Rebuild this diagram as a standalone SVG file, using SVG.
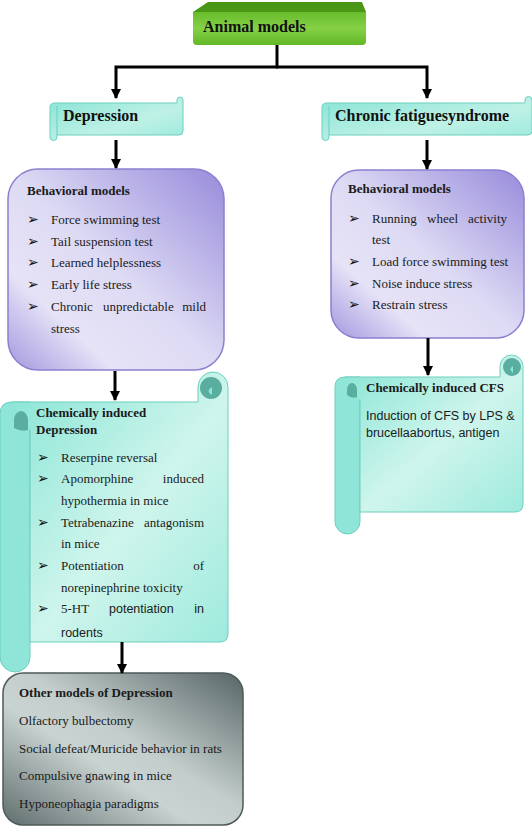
<svg xmlns="http://www.w3.org/2000/svg" width="532" height="829" viewBox="0 0 532 829">
<defs>
<linearGradient id="gGreen" x1="0" y1="0" x2="0" y2="1">
<stop offset="0" stop-color="#68bd2b"/><stop offset="0.5" stop-color="#86d046"/><stop offset="1" stop-color="#62b826"/>
</linearGradient>
<linearGradient id="gPurple" x1="1" y1="0" x2="0" y2="1">
<stop offset="0" stop-color="#978bdb"/><stop offset="0.5" stop-color="#dddaf4"/><stop offset="0.75" stop-color="#e6e3f7"/><stop offset="1" stop-color="#a398df"/>
</linearGradient>
<linearGradient id="gTeal" x1="0" y1="0" x2="1" y2="1">
<stop offset="0" stop-color="#86e4d5"/><stop offset="0.55" stop-color="#cff5ec"/><stop offset="1" stop-color="#9eeadd"/>
</linearGradient>
<linearGradient id="gBanner" x1="0" y1="0" x2="1" y2="1">
<stop offset="0" stop-color="#86e4d5"/><stop offset="0.6" stop-color="#bff1e6"/><stop offset="1" stop-color="#9be9dc"/>
</linearGradient>
<linearGradient id="gGray" x1="1" y1="0" x2="0" y2="1">
<stop offset="0" stop-color="#566565"/><stop offset="0.45" stop-color="#c3cecc"/><stop offset="0.6" stop-color="#c9d3d1"/><stop offset="1" stop-color="#5f6d6d"/>
</linearGradient>
<marker id="arr" markerUnits="userSpaceOnUse" markerWidth="10" markerHeight="10" refX="9" refY="5" orient="auto">
<path d="M0,0 L10,5 L0,10 Z" fill="#000"/>
</marker>
</defs>
<style>
.t{font-family:"Liberation Serif","Times New Roman",serif;font-size:13px;fill:#1a1a1a}
.b{font-weight:bold}
.h{font-family:"Liberation Serif","Times New Roman",serif;font-size:16px;font-weight:bold;fill:#111}
.s{font-family:"Liberation Sans",Arial,sans-serif;font-size:12.5px;fill:#1a1a1a}
.bl{font-family:"DejaVu Sans",sans-serif;font-size:14px;fill:#111}
.tealroll{fill:#8fe6d8;stroke:#6ccfbe;stroke-width:1}
.tealbody{fill:url(#gTeal);stroke:#6ccfbe;stroke-width:1}
.dark{fill:#5aaea0}
.conn{fill:none;stroke:#000;stroke-width:3}
</style>

<g id="animal-models">
<path d="M193,12 L208,2 H362 L366,12 Z" fill="#4a9616"/>
<path d="M193,12 H366 V41 Q366,45 362,45 H197 Q193,45 193,41 Z" fill="url(#gGreen)"/>
<text class="h" x="203" y="32">Animal models</text>
</g>

<g id="depression">
<path d="M55,103 H177 V100 A3,3 0 0 1 183,100 V131 Q183,135 179,135 H57 V137 A3.5,3.5 0 0 1 50,137 V107 Q50,103 55,103 Z" fill="url(#gBanner)" stroke="#6ccfbe"/>
<line x1="57" y1="106" x2="57" y2="135" stroke="#6ccfbe"/>
<text class="h" x="63" y="121">Depression</text>
</g>

<g id="cfs">
<path d="M327,103 H525 V100 A3.5,3.5 0 0 1 532,100 V131 Q532,135 528,135 H329 V137 A3.5,3.5 0 0 1 322,137 V107 Q322,103 327,103 Z" fill="url(#gBanner)" stroke="#6ccfbe"/>
<line x1="329" y1="106" x2="329" y2="135" stroke="#6ccfbe"/>
<text class="h" x="335" y="121">Chronic fatiguesyndrome</text>
</g>

<g id="behavioral-left">
<rect x="8" y="169" width="216" height="201" rx="30" fill="url(#gPurple)" stroke="#8b80cf" stroke-width="1.5"/>
<text class="t b" x="27" y="195">Behavioral models</text>
<text class="bl" x="27" y="224">➢</text><text class="t" x="51" y="224">Force swimming test</text>
<text class="bl" x="27" y="246">➢</text><text class="t" x="51" y="246">Tail suspension test</text>
<text class="bl" x="27" y="267">➢</text><text class="t" x="51" y="267">Learned helplessness</text>
<text class="bl" x="27" y="289">➢</text><text class="t" x="51" y="289">Early life stress</text>
<text class="bl" x="27" y="311">➢</text><text class="t" x="51" y="311">Chronic</text><text class="t" x="103" y="311">unpredictable</text><text class="t" x="206" y="311" text-anchor="end">mild</text>
<text class="t" x="51" y="333">stress</text>
</g>

<g id="behavioral-right">
<rect x="331" y="170" width="193" height="168" rx="28" fill="url(#gPurple)" stroke="#8b80cf" stroke-width="1.5"/>
<text class="t b" x="348" y="193">Behavioral models</text>
<text class="bl" x="348" y="223">➢</text><text class="t" x="372" y="223">Running</text><text class="t" x="427" y="223">wheel</text><text class="t" x="507" y="223" text-anchor="end">activity</text>
<text class="t" x="372" y="244">test</text>
<text class="bl" x="348" y="266">➢</text><text class="t" x="372" y="266">Load force swimming test</text>
<text class="bl" x="348" y="288">➢</text><text class="t" x="372" y="288">Noise induce stress</text>
<text class="bl" x="348" y="309">➢</text><text class="t" x="372" y="309">Restrain stress</text>
</g>

<g id="chem-depression">
<path class="tealroll" d="M0,414 Q0,402 12,402 H30 V657 A15,15 0 0 1 0,657 Z"/>
<path class="tealbody" d="M12,402 H198 V387 A15,15 0 0 1 228,387 V634 Q228,642 220,642 H30 V430"/>
<path class="dark" d="M14,420 A7,9 0 0 1 28,420 V430 Q21,432 14,428 Z"/>
<circle cx="211" cy="388" r="11" class="dark"/>
<path d="M212,387 Q205,391 212,395 Z" fill="#8fe6d8"/>
<text class="t b" x="36" y="417">Chemically induced</text>
<text class="t b" x="36" y="434">Depression</text>
<text class="bl" x="37" y="462">➢</text><text class="t" x="61" y="462">Reserpine reversal</text>
<text class="bl" x="37" y="483">➢</text><text class="t" x="61" y="483">Apomorphine</text><text class="t" x="204" y="483" text-anchor="end">induced</text>
<text class="t" x="61" y="505">hypothermia in mice</text>
<text class="bl" x="37" y="527">➢</text><text class="t" x="61" y="527">Tetrabenazine</text><text class="t" x="204" y="527" text-anchor="end">antagonism</text>
<text class="t" x="61" y="548">in mice</text>
<text class="bl" x="37" y="570">➢</text><text class="t" x="61" y="570">Potentiation</text><text class="t" x="204" y="570" text-anchor="end">of</text>
<text class="t" x="61" y="592">norepinephrine toxicity</text>
<text class="bl" x="37" y="613">➢</text><text class="t" x="61" y="613">5-HT</text><text class="s" x="109" y="613">potentiation</text><text class="s" x="204" y="613" text-anchor="end">in</text>
<text class="s" x="61" y="637">rodents</text>
</g>

<g id="chem-cfs">
<path class="tealroll" d="M335,387 Q335,377 345,377 H360 V521.5 A12.5,12.5 0 0 1 335,521.5 Z"/>
<path class="tealbody" d="M345,377 H500 V366.5 A11.5,11.5 0 0 1 523,366.5 V504 Q523,512 515,512 H360 V400"/>
<path class="dark" d="M347,390 A5,7 0 0 1 357,390 V397 Q352,399 347,395 Z"/>
<circle cx="512" cy="367" r="9" class="dark"/>
<path d="M513,366 Q508,369 513,373 Z" fill="#8fe6d8"/>
<text class="t b" x="366" y="392">Chemically induced CFS</text>
<text class="s" x="366" y="420">Induction of CFS by LPS &amp;</text>
<text class="s" x="366" y="437">brucellaabortus, antigen</text>
</g>

<g id="other-models">
<rect x="3" y="673" width="240" height="152" rx="20" fill="url(#gGray)" stroke="#4e5a5a" stroke-width="1.5"/>
<text class="t b" x="19" y="697">Other models of Depression</text>
<text class="t" x="19" y="725">Olfactory bulbectomy</text>
<text class="t" x="19" y="753">Social defeat/Muricide behavior in rats</text>
<text class="t" x="19" y="780">Compulsive gnawing in mice</text>
<text class="t" x="19" y="808">Hyponeophagia paradigms</text>
</g>

<g id="connectors">
<path class="conn" d="M277,45 V67"/>
<path class="conn" d="M278,67 H116 V98" marker-end="url(#arr)"/>
<path class="conn" d="M276,67 H427 V98" marker-end="url(#arr)"/>
<path class="conn" d="M116,140 V168" marker-end="url(#arr)"/>
<path class="conn" d="M427,140 V169" marker-end="url(#arr)"/>
<path class="conn" d="M115,371 V400" marker-end="url(#arr)"/>
<path class="conn" d="M428,338 V375" marker-end="url(#arr)"/>
<path class="conn" d="M122,642 V673" marker-end="url(#arr)"/>
</g>
</svg>
